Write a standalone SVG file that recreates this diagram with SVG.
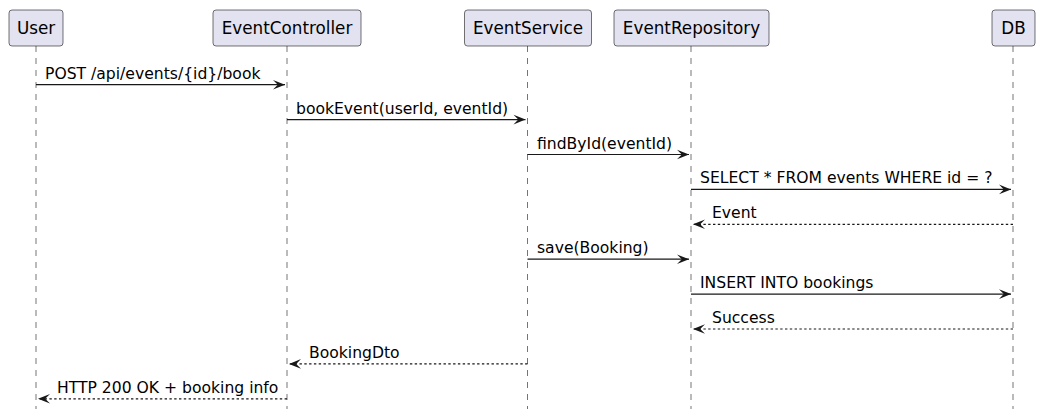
<svg xmlns="http://www.w3.org/2000/svg" width="1054" height="409" viewBox="0 0 1054 409">
<style>
.box{fill:#E2E2F0;stroke:#181818;stroke-width:0.6}
.life{stroke:#181818;stroke-width:0.6;stroke-dasharray:6,6;fill:none}
.pt{font-family:"DejaVu Sans",sans-serif;font-size:16.8px;fill:#000;text-anchor:middle}
.msg{stroke:#181818;stroke-width:1.2;fill:none;marker-end:url(#ah)}
.ret{stroke-dasharray:2.4,2.4}
.ml{font-family:"DejaVu Sans",sans-serif;font-size:15.6px;fill:#000}
</style>
<defs>
<marker id="ah" viewBox="-13 -6 14 12" refX="0" refY="0" markerWidth="14" markerHeight="12" markerUnits="userSpaceOnUse" orient="auto">
<path d="M0,0 L-12,-4.8 L-7.2,0 L-12,4.8 Z" fill="#181818"/>
</marker>
</defs>
<rect width="1054" height="409" fill="#fff"/>
<g id="lifelines">
<line class="life" x1="36" y1="46" x2="36" y2="409"/>
<line class="life" x1="287" y1="46" x2="287" y2="409"/>
<line class="life" x1="527.5" y1="46" x2="527.5" y2="409"/>
<line class="life" x1="691" y1="46" x2="691" y2="409"/>
<line class="life" x1="1013" y1="46" x2="1013" y2="409"/>
</g>
<g id="User"><rect class="box" x="9" y="10" width="54" height="36" rx="3"/><text class="pt" x="36" y="34">User</text></g>
<g id="EventController"><rect class="box" x="213" y="10" width="148" height="36" rx="3"/><text class="pt" x="287" y="34">EventController</text></g>
<g id="EventService"><rect class="box" x="464.5" y="10" width="127" height="36" rx="3"/><text class="pt" x="528" y="34">EventService</text></g>
<g id="EventRepository"><rect class="box" x="614" y="10" width="155" height="36" rx="3"/><text class="pt" x="691.5" y="34">EventRepository</text></g>
<g id="DB"><rect class="box" x="992" y="10" width="43" height="36" rx="3"/><text class="pt" x="1013.5" y="34">DB</text></g>
<g id="connectors">
<line class="msg" x1="36" y1="84.7" x2="285" y2="84.7"/>
<text class="ml" x="45" y="78.7">POST /api/events/{id}/book</text>
<line class="msg" x1="287" y1="119.6" x2="525.5" y2="119.6"/>
<text class="ml" x="296" y="113.6">bookEvent(userId, eventId)</text>
<line class="msg" x1="527.5" y1="154.5" x2="689" y2="154.5"/>
<text class="ml" x="537" y="148.5">findById(eventId)</text>
<line class="msg" x1="691" y1="189.4" x2="1011" y2="189.4"/>
<text class="ml" x="700" y="183.4">SELECT * FROM events WHERE id = ?</text>
<line class="msg ret" x1="1013" y1="224.3" x2="693" y2="224.3"/>
<text class="ml" x="712" y="218.3">Event</text>
<line class="msg" x1="527.5" y1="259.2" x2="689" y2="259.2"/>
<text class="ml" x="537" y="253.2">save(Booking)</text>
<line class="msg" x1="691" y1="294.1" x2="1011" y2="294.1"/>
<text class="ml" x="700" y="288.1">INSERT INTO bookings</text>
<line class="msg ret" x1="1013" y1="329" x2="693" y2="329"/>
<text class="ml" x="712" y="323">Success</text>
<line class="msg ret" x1="527.5" y1="363.9" x2="289" y2="363.9"/>
<text class="ml" x="309" y="357.9">BookingDto</text>
<line class="msg ret" x1="287" y1="398.8" x2="38" y2="398.8"/>
<text class="ml" x="57" y="392.8">HTTP 200 OK + booking info</text>
</g>
</svg>
